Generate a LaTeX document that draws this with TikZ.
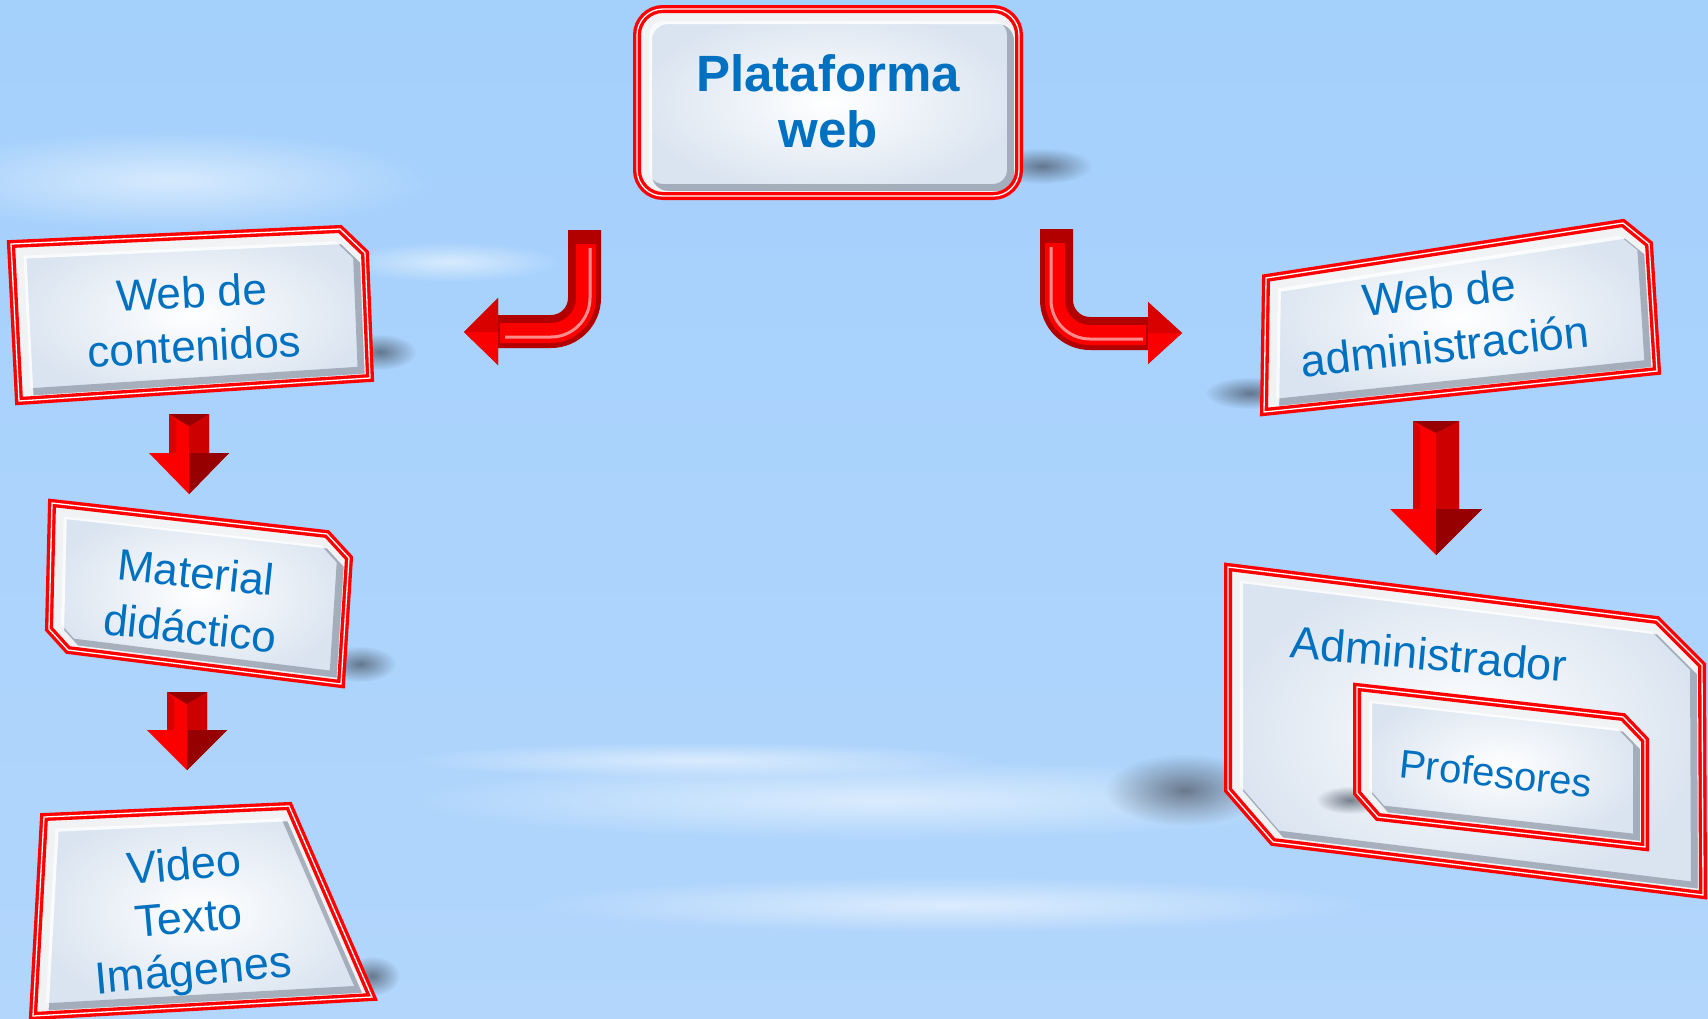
\documentclass[tikz,border=0pt]{standalone}
\usepackage{fontspec}
\setmainfont{Liberation Sans}
\usetikzlibrary{fadings}

\definecolor{skytop}{RGB}{164,208,252}
\definecolor{skymid}{RGB}{204,228,252}
\definecolor{skybot}{RGB}{178,214,252}
\definecolor{txtblue}{RGB}{0,112,192}
\definecolor{arrred}{RGB}{250,0,0}
\definecolor{arrdark}{RGB}{150,0,0}
\definecolor{facegray}{RGB}{218,228,240}
\definecolor{bevelgray}{RGB}{110,120,135}
\definecolor{shadowcol}{RGB}{70,80,95}

\tikzfading[name=softblob, inner color=transparent!0, outer color=transparent!100]

\newcommand{\fs}[2]{\fontsize{#1}{#2}\selectfont}
\newcommand{\bevelbox}[1]{%
  \shade[inner color=white, outer color=facegray] #1;
  \begin{scope}
    \clip #1;
    \draw[line width=24pt, draw=bevelgray, opacity=0.5] #1;
    \draw[line width=20pt, draw=white, opacity=0.85, shift={(5,5)}] #1;
  \end{scope}
  \draw[rim] #1;
  \draw[rimlight] #1;
}
\newcommand{\dnarrow}[6]{%
  \fill[arrred] (#1-#5,#2) -- (#1+#5,#2) -- (#1+#5,#3) -- (#1+#6,#3) -- (#1,#4) -- (#1-#6,#3) -- (#1-#5,#3) -- cycle;
  \fill[red!80!black] (#1,#2+12) -- (#1+#5,#2) -- (#1+#5,#3) -- (#1+#6,#3) -- (#1,#4) -- cycle;
  \fill[arrdark] (#1,#3) -- (#1+#6,#3) -- (#1,#4) -- cycle;
  \fill[red!85!black] (#1-#5,#2) -- (#1-#5+7,#2+7) -- (#1-#5+7,#3) -- (#1-#5,#3) -- cycle;
  \fill[arrdark] (#1-#5,#2) -- (#1+#5,#2) -- (#1,#2+12) -- cycle;
}

\tikzset{
  rim/.style={draw=red, line width=8pt},
  rimlight/.style={draw=white, line width=1.3pt},
  lbl/.style={text=txtblue, align=center, inner sep=0pt},
  shadowblob/.style={fill=shadowcol, opacity=0.7, path fading=softblob},
  cloud/.style={fill=white, opacity=0.55, path fading=softblob}
}

\begin{document}
\begin{tikzpicture}[x=1pt, y=-1pt]
\useasboundingbox (0,0) rectangle (1708,1018);
\shade[top color=skytop, middle color=skymid, bottom color=skybot] (0,0) rectangle (1708,1018);

% clouds
\fill[cloud] (170,180) ellipse (260 and 50);
\fill[cloud] (450,262) ellipse (110 and 20);
\fill[cloud] (880,800) ellipse (480 and 40);
\fill[cloud] (700,760) ellipse (300 and 18);
\fill[cloud] (950,905) ellipse (420 and 28);

% shadows
\fill[shadowblob] (1042,166) ellipse (50 and 18);
\fill[shadowblob] (380,352) ellipse (36 and 18);
\fill[shadowblob] (360,664) ellipse (36 and 18);
\fill[shadowblob] (372,976) ellipse (28 and 20);
\fill[shadowblob] (1250,393) ellipse (45 and 16);
\fill[shadowblob] (1185,790) ellipse (80 and 36);

% boxes
\bevelbox{[rounded corners=26pt] (637,9) rectangle (1019,196)}
\bevelbox{(11,244) -- (340,229) -- (365,253) -- (370,378) -- (19,401) -- cycle}
\bevelbox{(52,503) -- (327,534) -- (349,558) -- (341,684) -- (68,650) -- (49,629) -- cycle}
\bevelbox{(44,817) -- (289,806) -- (372,997) -- (33,1016) -- cycle}
\bevelbox{(1266,278) -- (1623,223) -- (1649,244) -- (1657,371) -- (1264,412) -- cycle}
\bevelbox{(1228,567) -- (1657,620) -- (1702,665) -- (1703,895) -- (1273,842) -- (1228,790) -- cycle}
\fill[shadowblob] (1350,800) ellipse (34 and 14);
\bevelbox{(1357,687) -- (1623,717) -- (1645,740) -- (1645,847) -- (1378,817) -- (1357,793) -- cycle}

% straight arrows
\dnarrow{189}{414}{453}{494}{20}{40}
\dnarrow{187}{692}{730}{770}{20}{40}
\dnarrow{1436}{421}{509}{555}{23}{46}

% bent arrow to the left
\fill[red!70!black] (568,230) -- (601,230) -- (601,298) .. controls (601,325.6) and (578.6,348) .. (551,348) -- (498,348) -- (498,365) -- (464,332) -- (498,298) -- (498,315) -- (551,315) .. controls (560.4,315) and (568,307.4) .. (568,298) -- cycle;
\draw[arrred, line width=20pt] (586,244) -- (586,298) .. controls (586,317.3) and (570.3,333) .. (551,333) -- (500,333);
\draw[red!45!white, line width=3pt] (590,248) -- (590,298) .. controls (590,319.5) and (572.5,337) .. (551,337) -- (505,337);
\fill[arrred] (498,332) -- (464,332) -- (498,365) -- cycle;
\fill[red!85!black] (498,298) -- (464,332) -- (498,332) -- cycle;

% bent arrow to the right
\fill[red!70!black] (1073,229) -- (1040,229) -- (1040,300) .. controls (1040,327.6) and (1062.4,350) .. (1090,350) -- (1148,350) -- (1148,364) -- (1182,333) -- (1148,302) -- (1148,317) -- (1090,317) .. controls (1080.6,317) and (1073,309.4) .. (1073,300) -- cycle;
\draw[arrred, line width=20pt] (1055,243) -- (1055,300) .. controls (1055,319.3) and (1070.7,335) .. (1090,335) -- (1146,335);
\draw[red!45!white, line width=3pt] (1051,247) -- (1051,300) .. controls (1051,321.5) and (1068.5,339) .. (1090,339) -- (1143,339);
\fill[arrred] (1148,333) -- (1182,333) -- (1148,364) -- cycle;
\fill[red!85!black] (1148,302) -- (1182,333) -- (1148,333) -- cycle;

% labels
\node[lbl, font=\fs{51}{56}\bfseries] (plat) at (828,101) {Plataforma\\web};
\node[lbl, font=\fs{44}{54}, rotate=3] (wcon) at (193,319) {Web de\\contenidos};
\node[lbl, font=\fs{44}{56}, rotate=-6] (mdid) at (193,600) {Material\\didáctico};
\node[lbl, font=\fs{45}{53}, rotate=5] (vti) at (189,921) {Video\\Texto\\Imágenes};
\node[lbl, font=\fs{45}{54}, rotate=6] (wadm) at (1442,319) {Web de\\administración};
\node[lbl, font=\fs{45}{54}, rotate=-5] (admin) at (1429,654) {Administrador};
\node[lbl, font=\fs{40}{48}, rotate=-6] (prof) at (1496,773) {Profesores};
\end{tikzpicture}
\end{document}
